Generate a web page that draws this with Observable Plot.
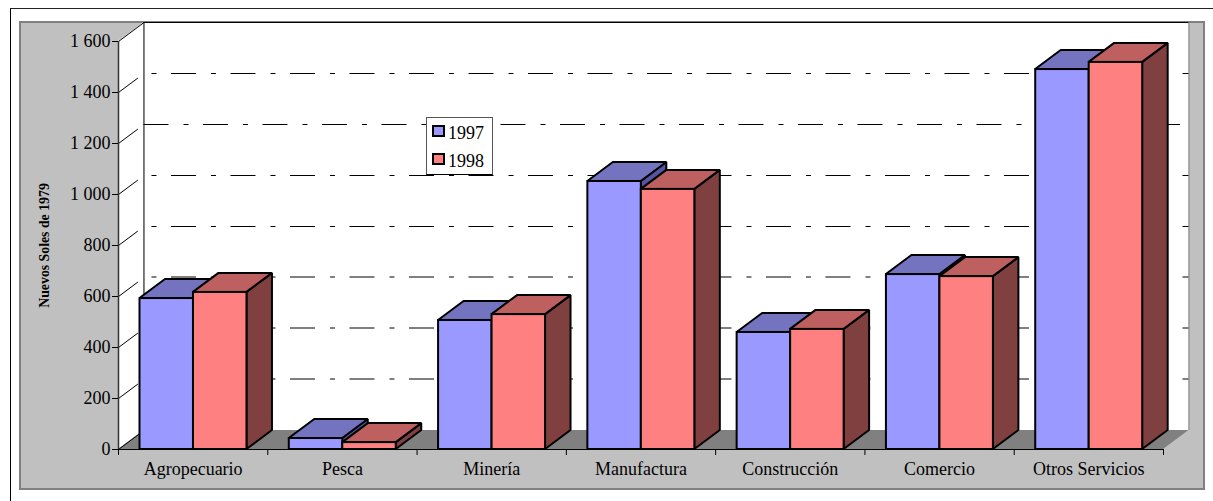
<!DOCTYPE html>
<html>
<head>
<meta charset="utf-8">
<script src="https://cdn.jsdelivr.net/npm/d3@7"></script>
<script src="https://cdn.jsdelivr.net/npm/@observablehq/plot@0.6"></script>
<style>
html,body{margin:0;padding:0;background:#fff;overflow:hidden;width:1213px;height:501px}
body{position:relative;font-family:"Liberation Serif",serif}
#frame{position:absolute;left:10px;top:8px;width:1400px;height:700px;border:1px solid #000;border-top-color:#222;box-sizing:border-box}
#panel{position:absolute;left:19px;top:21px;width:1186px;height:469px;background:#c0c0c0;border:2px solid #808080;box-sizing:border-box}
#chart{position:absolute;left:0;top:0}
#legend{position:absolute;left:426px;top:117px;width:67px;height:58px;background:#fff;border:1px solid #555;border-bottom-color:#000;box-sizing:border-box;font-size:18px;color:#000}
#legend div{position:absolute;left:5px;width:13px;height:12px;border:2px solid #000;box-sizing:border-box}
#legend span{position:absolute;left:21px;line-height:20px}
</style>
</head>
<body>
<div id="frame"></div>
<div id="panel"></div>
<div id="chart"></div>
<div id="legend">
  <div style="top:7px;background:#9999ff"></div><span style="top:5px">1997</span>
  <div style="top:35px;background:#ff8080"></div><span style="top:33px">1998</span>
</div>
<script>
const categories = ["Agropecuario","Pesca","Minería","Manufactura","Construcción","Comercio","Otros Servicios"];
const values1997 = [592, 43, 506, 1051, 459, 686, 1490];
const values1998 = [616, 27, 529, 1020, 471, 678, 1518];
const yTicks = [0,200,400,600,800,1000,1200,1400,1600];
const gridValues = [200,400,600,800,1000,1200,1400];

const depthX = 0.1707;   // depth of the 3D box, category units
const depthY = 74.5;     // depth of the 3D box, value units
const barStart = 0.1440;
const barWidth = 0.3583;
const serif = "Liberation Serif";

function faces(values, slot){
  const side = [], top = [], front = [];
  values.forEach((v,i)=>{
    const a = i + barStart + slot*barWidth, b = a + barWidth;
    front.push({x1:a,x2:b,y1:0,y2:v});
    side.push({z:i,x1:b,x2:b,y1:0,y2:v},{z:i,x1:b+depthX,x2:b+depthX,y1:depthY,y2:v+depthY});
    top.push({z:i,x1:a,x2:b,y1:v,y2:v},{z:i,x1:a+depthX,x2:b+depthX,y1:v+depthY,y2:v+depthY});
  });
  return {side,top,front};
}
const blue = faces(values1997,0), red = faces(values1998,1);
const barStyle = {stroke:"#000",strokeWidth:2,strokeLinejoin:"miter"};
const faceMarks = (f,cFront,cTop,cSide)=>[
  Plot.area(f.side,{x1:"x1",x2:"x2",y1:"y1",y2:"y2",z:"z",fill:cSide,...barStyle}),
  Plot.area(f.top,{x1:"x1",x2:"x2",y1:"y1",y2:"y2",z:"z",fill:cTop,...barStyle}),
  Plot.rect(f.front,{x1:"x1",x2:"x2",y1:"y1",y2:"y2",fill:cFront,...barStyle})
];

const xMax = categories.length;
const sideWall = [{x1:0,x2:0,y1:0,y2:1600},{x1:depthX,x2:depthX,y1:depthY,y2:1600+depthY}];
const floor = [{x1:0,x2:xMax,y1:0,y2:0},{x1:depthX,x2:xMax+depthX,y1:depthY,y2:depthY}];
const fmt = d => d3.format(",")(d).replace(",", " ");
const dash = {x1:depthX,x2:xMax+depthX,stroke:"#000",strokeWidth:1,strokeDasharray:"25 15 5 14.5"};

const plot = Plot.plot({
  width:1213, height:501,
  marginLeft:118, marginRight:50, marginTop:41, marginBottom:52,
  style:{background:"transparent",fontFamily:serif,overflow:"visible"},
  x:{type:"linear",domain:[0,xMax],axis:null},
  y:{type:"linear",domain:[0,1600],axis:null},
  marks:[
    // walls
    Plot.rect([0],{x1:depthX,x2:xMax+depthX,y1:depthY,y2:1600+depthY,fill:"#fff"}),
    Plot.area(sideWall,{x1:"x1",x2:"x2",y1:"y1",y2:"y2",fill:"#fff"}),
    Plot.area(floor,{x1:"x1",x2:"x2",y1:"y1",y2:"y2",fill:"#808080"}),
    Plot.ruleX([xMax+depthX],{y1:depthY,y2:1600+depthY,stroke:"#808080",strokeWidth:1}),
    // gridlines on the back wall
    Plot.ruleY(gridValues.filter(d=>d>600&&d!==1200),{y:d=>d+depthY,...dash,strokeDashoffset:32}),
    Plot.ruleY(gridValues.filter(d=>d<=600),{y:d=>d+depthY,dy:-0.5,...dash,strokeDashoffset:32}),
    Plot.ruleY([1200],{y:d=>d+depthY,...dash,strokeDashoffset:0}),
    // wall edges
    Plot.ruleX([depthX],{y1:depthY,y2:1600+depthY,stroke:"#000",strokeWidth:1}),
    Plot.ruleY([1600+depthY],{x1:depthX,x2:xMax+depthX,stroke:"#000",strokeWidth:1}),
    Plot.link(gridValues,{x1:0,x2:depthX*0.76,y1:d=>d,y2:d=>d+depthY*0.76,stroke:"#000",strokeWidth:1}),
    Plot.link([0,1600],{x1:0,x2:depthX,y1:d=>d,y2:d=>d+depthY,stroke:"#000",strokeWidth:1}),
    // bars
    ...faceMarks(blue,"#9999ff","#7373bf","#5555a0"),
    ...faceMarks(red,"#ff8080","#bf6060","#804040"),
    // axes
    Plot.ruleY([0],{x1:0,x2:xMax,stroke:"#000",strokeWidth:1}),
    Plot.ruleX([0],{y1:0,y2:1600,stroke:"#333",strokeWidth:1.5}),
    Plot.axisY({ticks:yTicks,tickFormat:fmt,tickSize:6,tickPadding:2,fontSize:18,stroke:"#000",fill:"#000",label:null}),
    Plot.axisX({ticks:d3.range(0,xMax+1),tickFormat:()=>"",tickSize:6,stroke:"#000",label:null}),
    Plot.axisX({ticks:categories.map((c,i)=>i+0.5),tickFormat:d=>categories[d-0.5],tickSize:0,tickPadding:13,fontSize:18,fill:"#000",label:null}),
    Plot.text(["Nuevos Soles de 1979"],{frameAnchor:"left",textAnchor:"middle",dx:-74,dy:0,rotate:-90,fontSize:13.8,fontWeight:"bold",fill:"#000"})
  ]
});
document.getElementById("chart").appendChild(plot);
</script>
</body>
</html>
